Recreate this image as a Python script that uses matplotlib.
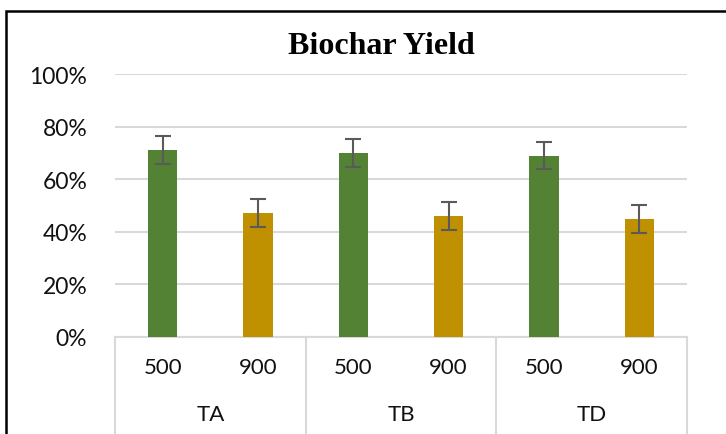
import matplotlib.pyplot as plt
import matplotlib.patches as patches

# values
groups = ["TA", "TB", "TD"]
temps = ["500", "900"]
yield_500 = [71, 70, 69]
yield_900 = [47, 46, 45]
err_500 = [5.4, 5.3, 5.3]
err_900 = [5.3, 5.3, 5.3]
y_ticks = [0, 20, 40, 60, 80, 100]

green = "#548235"
gold = "#BF9000"
grid_col = "#D9D9D9"

fig = plt.figure(figsize=(7.26, 4.35), dpi=100)
ax = fig.add_axes([115/726, 1-338/435, (687-115)/726, (338-75)/435])

# frame around the chart (cropped on right and bottom in the reference)
fig.patches.append(patches.Rectangle((6/726, -0.1), 1.2, 1-12/435+0.1,
                                     transform=fig.transFigure, fill=False,
                                     edgecolor="black", linewidth=1.8))

x500 = [2*i + 0.5 for i in range(len(groups))]
x900 = [2*i + 1.5 for i in range(len(groups))]
w = 0.31

ax.bar(x500, yield_500, width=w, color=green, zorder=3)
ax.bar(x900, yield_900, width=w, color=gold, zorder=3)
ax.errorbar(x500, yield_500, yerr=err_500, fmt="none", ecolor="#5A5A5A",
            elinewidth=1.5, capsize=6, capthick=1.5, zorder=4)
ax.errorbar(x900, yield_900, yerr=err_900, fmt="none", ecolor="#5A5A5A",
            elinewidth=1.5, capsize=6, capthick=1.5, zorder=4)

ax.set_xlim(0, 6)
ax.set_ylim(0, 100)
ax.set_yticks(y_ticks)
ax.set_yticklabels([str(t) + "%" for t in y_ticks], fontfamily="Lato",
                   fontsize=16.5, color="#111111")
ax.tick_params(axis="y", length=0, pad=20)
ax.set_xticks([])
ax.yaxis.grid(True, color=grid_col, linewidth=1.5, zorder=0)
ax.set_axisbelow(True)
for s in ["left", "right", "top"]:
    ax.spines[s].set_visible(False)
ax.spines["bottom"].set_color(grid_col)
ax.spines["bottom"].set_linewidth(1.5)

# two-level category axis
trans = ax.get_xaxis_transform()
for b in range(len(groups) + 1):
    ax.plot([2*b, 2*b], [0, -0.5], transform=trans, color=grid_col,
            linewidth=1.5, clip_on=False)
for i, g in enumerate(groups):
    ax.text(x500[i], -30/263, temps[0], transform=trans, ha="center",
            va="center", fontfamily="Lato", fontsize=16, color="#111111")
    ax.text(x900[i], -30/263, temps[1], transform=trans, ha="center",
            va="center", fontfamily="Lato", fontsize=16, color="#111111")
    ax.text(2*i + 1, -77/263, g, transform=trans, ha="center",
            va="center", fontfamily="Lato", fontsize=16, color="#111111")

fig.text(381/726, 1-47/435, "Biochar Yield", ha="center", va="center",
         fontfamily="Liberation Serif", fontweight="bold", fontsize=23)

plt.savefig("out.png", dpi=100)
